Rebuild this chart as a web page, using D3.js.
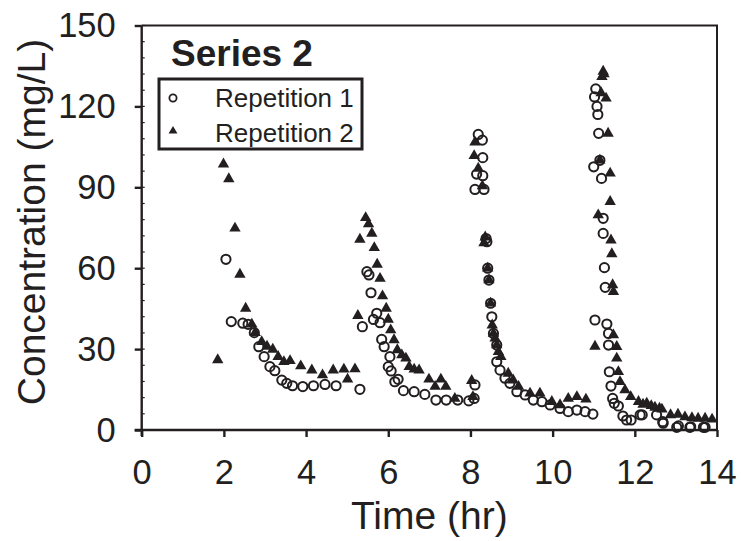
<!DOCTYPE html>
<html>
<head>
<meta charset="utf-8">
<script src="https://cdn.jsdelivr.net/npm/d3@7"></script>
<style>
  body { margin: 0; background: #fff; }
  text { font-family: "Liberation Sans", Arial, sans-serif; fill: #231f20; }
</style>
</head>
<body>
<svg id="chart" width="741" height="541"></svg>
<script>
"use strict"

// data (time in hr, concentration in mg/L)
const rep1Time = [2.05, 2.18, 2.46, 2.59, 2.74, 2.85, 2.98, 3.12, 3.24, 3.41, 3.53, 3.67, 3.92, 4.18, 4.46, 4.73,
    5.31, 5.37, 5.48, 5.53, 5.58, 5.64, 5.72, 5.80, 5.84, 5.90, 6.00, 6.04, 6.07, 6.16, 6.24, 6.37, 6.63, 6.89, 7.16, 7.41, 7.69, 7.96, 8.09, 8.11,
    8.11, 8.15, 8.19, 8.29, 8.30, 8.30, 8.33, 8.38, 8.40, 8.42, 8.45, 8.49, 8.52, 8.56, 8.64, 8.64, 8.72, 8.84, 8.96, 9.13, 9.33, 9.53, 9.74, 9.94, 10.18, 10.38, 10.59, 10.79, 10.98,
    11.00, 11.02, 11.05, 11.08, 11.10, 11.12, 11.15, 11.19, 11.23, 11.23, 11.26, 11.28, 11.03, 11.32, 11.36, 11.36, 11.38, 11.42, 11.46, 11.50, 11.60, 11.71, 11.80, 11.91,
    12.13, 12.18, 12.53, 12.68, 12.69, 13.02, 13.06, 13.34, 13.36, 13.67, 13.71];
const rep1Conc = [63.3, 40.2, 39.6, 39.2, 36.1, 30.9, 27.2, 23.5, 22.0, 18.5, 17.3, 16.4, 16.1, 16.4, 16.9, 16.4,
    15.1, 38.3, 58.7, 57.5, 50.9, 41.0, 43.3, 39.8, 33.6, 30.9, 23.5, 27.2, 21.9, 17.9, 18.8, 14.6, 14.2, 13.2, 11.1, 11.1, 11.1, 10.8, 11.7, 16.7,
    89.2, 94.9, 109.6, 107.5, 101.0, 94.3, 89.2, 71.0, 69.8, 60.0, 55.6, 47.0, 42.0, 35.8, 31.5, 25.3, 22.2, 19.2, 17.3, 14.2, 13.0, 11.1, 10.5, 9.3, 8.0, 6.8, 7.4, 6.8, 5.9,
    97.6, 123.5, 126.5, 120.0, 117.0, 110.0, 100.0, 93.3, 78.5, 72.9, 60.2, 52.9, 40.8, 39.3, 35.8, 31.5, 21.6, 16.3, 11.7, 9.9, 8.9, 5.2, 3.7, 3.7,
    5.6, 5.6, 5.6, 3.1, 2.5, 1.0, 1.5, 1.0, 1.2, 1.0, 1.0];

const rep2Time = [1.85, 1.99, 2.12, 2.27, 2.39, 2.53, 2.68, 2.76, 2.92, 3.05, 3.19, 3.32, 3.46, 3.61, 3.87, 4.14, 4.40, 4.66,
    4.92, 5.01, 5.19, 5.26, 5.31, 5.45, 5.52, 5.60, 5.66, 5.73, 5.80, 5.86, 5.95, 6.00, 6.06, 6.14, 6.22, 6.33, 6.43, 6.51, 6.63, 6.75, 6.99, 7.14, 7.28, 7.40, 7.62,
    8.03, 8.06, 8.09, 8.11, 8.19, 8.29, 8.33, 8.36, 8.42, 8.45, 8.49, 8.53, 8.56, 8.60, 8.64, 8.68, 8.74, 8.92, 9.04, 9.17, 9.45, 9.69, 9.98, 10.18, 10.38, 10.59, 10.81,
    11.03, 11.11, 11.15, 11.18, 11.20, 11.23, 11.25, 11.30, 11.35, 11.40, 11.40, 11.42, 11.44, 11.46, 11.48, 11.48, 11.56, 11.56, 11.60, 11.64, 11.76, 11.90,
    12.09, 12.20, 12.29, 12.40, 12.49, 12.60, 12.66, 12.87, 13.05, 13.22, 13.39, 13.54, 13.71, 13.88];
const rep2Conc = [26.0, 98.6, 93.1, 74.8, 57.7, 45.1, 39.2, 36.1, 32.7, 31.0, 29.9, 27.2, 25.3, 25.7, 23.7, 22.2, 20.4, 22.2,
    22.5, 18.8, 22.6, 42.4, 70.7, 78.7, 76.4, 72.9, 67.6, 61.4, 56.2, 49.7, 45.1, 41.0, 37.1, 33.4, 29.7, 27.8, 26.6, 23.5, 22.5, 22.2, 18.8, 16.1, 18.8, 16.1, 11.7,
    18.3, 12.3, 101.7, 106.7, 97.0, 90.5, 69.4, 71.5, 60.0, 55.6, 47.0, 38.9, 35.8, 34.0, 31.5, 29.0, 27.2, 21.0, 18.5, 16.1, 13.6, 13.6, 10.5, 9.3, 11.7, 12.3, 11.4,
    31.0, 79.7, 100.0, 125.0, 131.0, 133.0, 132.0, 123.0, 110.0, 95.2, 84.7, 70.4, 65.3, 53.8, 51.3, 35.2, 30.9, 26.6, 21.6, 17.9, 14.8, 12.3,
    10.5, 9.5, 9.9, 9.0, 8.4, 8.0, 7.7, 5.6, 5.8, 4.8, 4.5, 4.3, 4.3, 4.0];

const xTicks = [0, 2, 4, 6, 8, 10, 12, 14];
const yTicks = [0, 30, 60, 90, 120, 150];
const yMinorTicks = d3.range(0, 151, 6);
const legendLabels = ["Repetition 1", "Repetition 2"];

// layout
const svg = d3.select("#chart");
const pLeft = 141.7, pRight = 717, pTop = 25.5, pBottom = 430;
const ink = "#231f20";

let x = d3.scaleLinear().domain([0, 14]).range([pLeft, pRight]);
let y = d3.scaleLinear().domain([0, 150]).range([pBottom, pTop]);

// frame (top and right)
svg.append("path")
    .attr("d", "M" + pLeft + "," + pTop + "H" + pRight + "V" + pBottom)
    .attr("fill", "none")
    .attr("stroke", ink)
    .attr("stroke-width", 2);

// minor ticks on the left axis, pointing in
svg.append("g").selectAll("line")
    .data(yMinorTicks)
    .enter().append("line")
    .attr("x1", pLeft).attr("x2", pLeft + 3)
    .attr("y1", d => y(d)).attr("y2", d => y(d))
    .attr("stroke", ink).attr("stroke-width", 1.2);

let xAxis = svg.append("g")
    .attr("transform", "translate(0," + pBottom + ")")
    .call(d3.axisBottom(x).tickValues(xTicks).tickSize(7).tickPadding(23).tickSizeOuter(0));
let yAxis = svg.append("g")
    .attr("transform", "translate(" + pLeft + ",0)")
    .call(d3.axisLeft(y).tickValues(yTicks).tickSize(7).tickPadding(19).tickSizeOuter(0));

[xAxis, yAxis].forEach(function (ax) {
    ax.select(".domain").attr("stroke", ink).attr("stroke-width", 2.4);
    ax.selectAll(".tick line").attr("stroke", ink).attr("stroke-width", 2.4);
    ax.selectAll(".tick text")
        .attr("font-size", 34.5)
        .attr("font-family", "Liberation Sans, Arial, sans-serif")
        .attr("fill", ink);
});
// the axis lines cross a little at the origin
xAxis.select(".domain").attr("d", "M" + (pLeft - 7) + ",0H" + pRight);
yAxis.select(".domain").attr("d", "M0," + (pBottom + 6) + "V" + pTop);

// axis titles
svg.append("text")
    .attr("x", (pLeft + pRight) / 2)
    .attr("y", 529)
    .attr("text-anchor", "middle")
    .attr("font-size", 39)
    .text("Time (hr)");

svg.append("text")
    .attr("transform", "translate(45,222) rotate(-90)")
    .attr("text-anchor", "middle")
    .attr("font-size", 39)
    .text("Concentration (mg/L)");

// markers
let tri = d3.symbol().type(d3.symbolTriangle).size(56);

svg.append("g").selectAll("path")
    .data(d3.range(rep2Time.length))
    .enter().append("path")
    .attr("d", tri)
    .attr("transform", i => "translate(" + x(rep2Time[i]) + "," + y(rep2Conc[i]) + ")")
    .attr("fill", ink);

svg.append("g").selectAll("circle")
    .data(d3.range(rep1Time.length))
    .enter().append("circle")
    .attr("cx", i => x(rep1Time[i]))
    .attr("cy", i => y(rep1Conc[i]))
    .attr("r", 4.6)
    .attr("fill", "none")
    .attr("stroke", ink)
    .attr("stroke-width", 2);

// title and legend
svg.append("text")
    .attr("x", 171)
    .attr("y", 66)
    .attr("font-size", 37)
    .attr("font-weight", "bold")
    .text("Series 2");

let legend = svg.append("g");
legend.append("rect")
    .attr("x", 159).attr("y", 79)
    .attr("width", 203).attr("height", 70)
    .attr("fill", "#fff")
    .attr("stroke", ink)
    .attr("stroke-width", 3);

legend.append("circle")
    .attr("cx", 173).attr("cy", 98)
    .attr("r", 3.6)
    .attr("fill", "none")
    .attr("stroke", ink)
    .attr("stroke-width", 1.8);
legend.append("path")
    .attr("d", d3.symbol().type(d3.symbolTriangle).size(34))
    .attr("transform", "translate(173,131)")
    .attr("fill", ink);

legend.selectAll("text.lab")
    .data(legendLabels)
    .enter().append("text")
    .attr("class", "lab")
    .attr("x", 215)
    .attr("y", (d, i) => 107 + i * 35)
    .attr("font-size", 26)
    .text(d => d);
</script>
</body>
</html>
